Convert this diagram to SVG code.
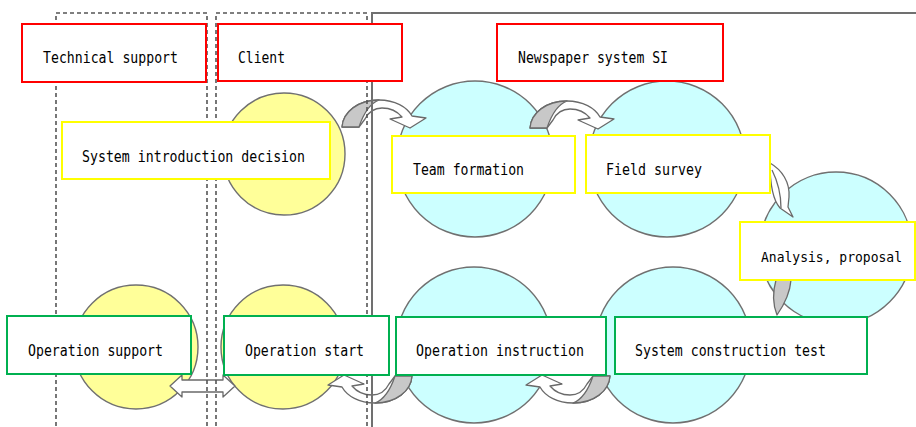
<svg xmlns="http://www.w3.org/2000/svg" xmlns:xlink="http://www.w3.org/1999/xlink" width="916" height="427" viewBox="0 0 916 427">
<style>
  .bg{fill:#ffffff}
  .lane{fill:none;stroke:#555555;stroke-width:1.6;stroke-dasharray:4 3}
  .solid{fill:none;stroke:#707070;stroke-width:2}
  .yc{fill:#ffff99;stroke:#707070;stroke-width:1.4}
  .cc{fill:#ccffff;stroke:#707070;stroke-width:1.4}
  .red{fill:#ffffff;stroke:#ff0000;stroke-width:2}
  .yel{fill:#ffffff;stroke:#ffff00;stroke-width:2}
  .grn{fill:#ffffff;stroke:#00b050;stroke-width:2}
  .lbl{font-family:"DejaVu Sans Mono","Liberation Mono",monospace;font-size:15px;fill:#000000}
  .arw{fill:#ffffff;stroke:#6a6a6a;stroke-width:1.3;stroke-linejoin:round}
  .arg{fill:#c8c8c8;stroke:#6a6a6a;stroke-width:1.3;stroke-linejoin:round}
</style>
<defs>
  <g id="curved">
    <path class="arw" d="M530,128 C531,113 546,101 567,101 C583,101 595,108 600,117 L614,119 L598,129 L578,120 L590,118 C585,112 578,109 570,109 C562,109 556,114 553,120 L547,128 Z"/>
    <path class="arg" d="M530,128 C531,113 546,101 567,101 C559,104 552,113 547,128 Z"/>
  </g>
</defs>
<rect class="bg" x="0" y="0" width="916" height="427"/>

<g id="bubbles">
  <circle class="yc" cx="284" cy="154" r="61"/>
  <circle class="yc" cx="136" cy="347" r="62"/>
  <circle class="yc" cx="283" cy="347" r="62"/>
  <circle class="cc" cx="475" cy="159" r="78"/>
  <circle class="cc" cx="667" cy="159" r="78"/>
  <circle class="cc" cx="836" cy="248" r="76"/>
  <circle class="cc" cx="474" cy="345" r="78"/>
  <circle class="cc" cx="673" cy="345" r="78"/>
</g>

<g id="connectors">
  <use xlink:href="#curved" transform="translate(-188,-1)"/>
  <use xlink:href="#curved"/>
  <path class="arw" d="M770,163 C782,170 790,182 789,197 L788,207 L793,217 L780,208 C773,200 770,185 770,163 Z"/>
  <path class="arw" d="M772,170 C778,182 781,195 781,208" fill="none"/>
  <path class="arg" d="M776,280 C772,294 773,305 777,315 C784,305 790,293 791,280 Z"/>
  <use xlink:href="#curved" transform="matrix(-1,0,0,-1,1140,504)"/>
  <use xlink:href="#curved" transform="matrix(-1,0,0,-1,942,504)"/>
  <path class="arw" d="M170,386 L182,375 L182,380 L223,380 L223,375 L235,386 L223,397 L223,392 L182,392 L182,397 Z"/>
</g>

<g id="lanes">
  <rect class="lane" x="56" y="13" width="151" height="430"/>
  <rect class="lane" x="216" y="13" width="151" height="430"/>
  <path class="solid" d="M372,440 L372,13 L916,13"/>
</g>

<g id="technical-support">
  <rect class="red" x="22" y="24" width="184" height="58"/>
  <text class="lbl" x="43" y="63" textLength="135" lengthAdjust="spacingAndGlyphs">Technical support</text>
</g>
<g id="client">
  <rect class="red" x="218" y="24" width="184" height="57"/>
  <text class="lbl" x="238" y="63" textLength="47" lengthAdjust="spacingAndGlyphs">Client</text>
</g>
<g id="newspaper-system-si">
  <rect class="red" x="497" y="24" width="226" height="57"/>
  <text class="lbl" x="518" y="63" textLength="150" lengthAdjust="spacingAndGlyphs">Newspaper system SI</text>
</g>
<g id="system-introduction-decision">
  <rect class="yel" x="62" y="122" width="268" height="57"/>
  <text class="lbl" x="82" y="162" textLength="223" lengthAdjust="spacingAndGlyphs">System introduction decision</text>
</g>
<g id="team-formation">
  <rect class="yel" x="392" y="136" width="183" height="57"/>
  <text class="lbl" x="413" y="175" textLength="111" lengthAdjust="spacingAndGlyphs">Team formation</text>
</g>
<g id="field-survey">
  <rect class="yel" x="586" y="135" width="184" height="58"/>
  <text class="lbl" x="606" y="175" textLength="96" lengthAdjust="spacingAndGlyphs">Field survey</text>
</g>
<g id="analysis-proposal">
  <rect class="yel" x="740" y="222" width="175" height="58"/>
  <text class="lbl" x="761" y="262" style="font-size:13.5px" textLength="141" lengthAdjust="spacingAndGlyphs">Analysis, proposal</text>
</g>
<g id="operation-support">
  <rect class="grn" x="7" y="316" width="184" height="58"/>
  <text class="lbl" x="28" y="356" textLength="135" lengthAdjust="spacingAndGlyphs">Operation support</text>
</g>
<g id="operation-start">
  <rect class="grn" x="224" y="316" width="165" height="59"/>
  <text class="lbl" x="245" y="356" textLength="119" lengthAdjust="spacingAndGlyphs">Operation start</text>
</g>
<g id="operation-instruction">
  <rect class="grn" x="396" y="317" width="210" height="58"/>
  <text class="lbl" x="416" y="356" textLength="168" lengthAdjust="spacingAndGlyphs">Operation instruction</text>
</g>
<g id="system-construction-test">
  <rect class="grn" x="615" y="317" width="252" height="57"/>
  <text class="lbl" x="635" y="356" textLength="191" lengthAdjust="spacingAndGlyphs">System construction test</text>
</g>
</svg>
